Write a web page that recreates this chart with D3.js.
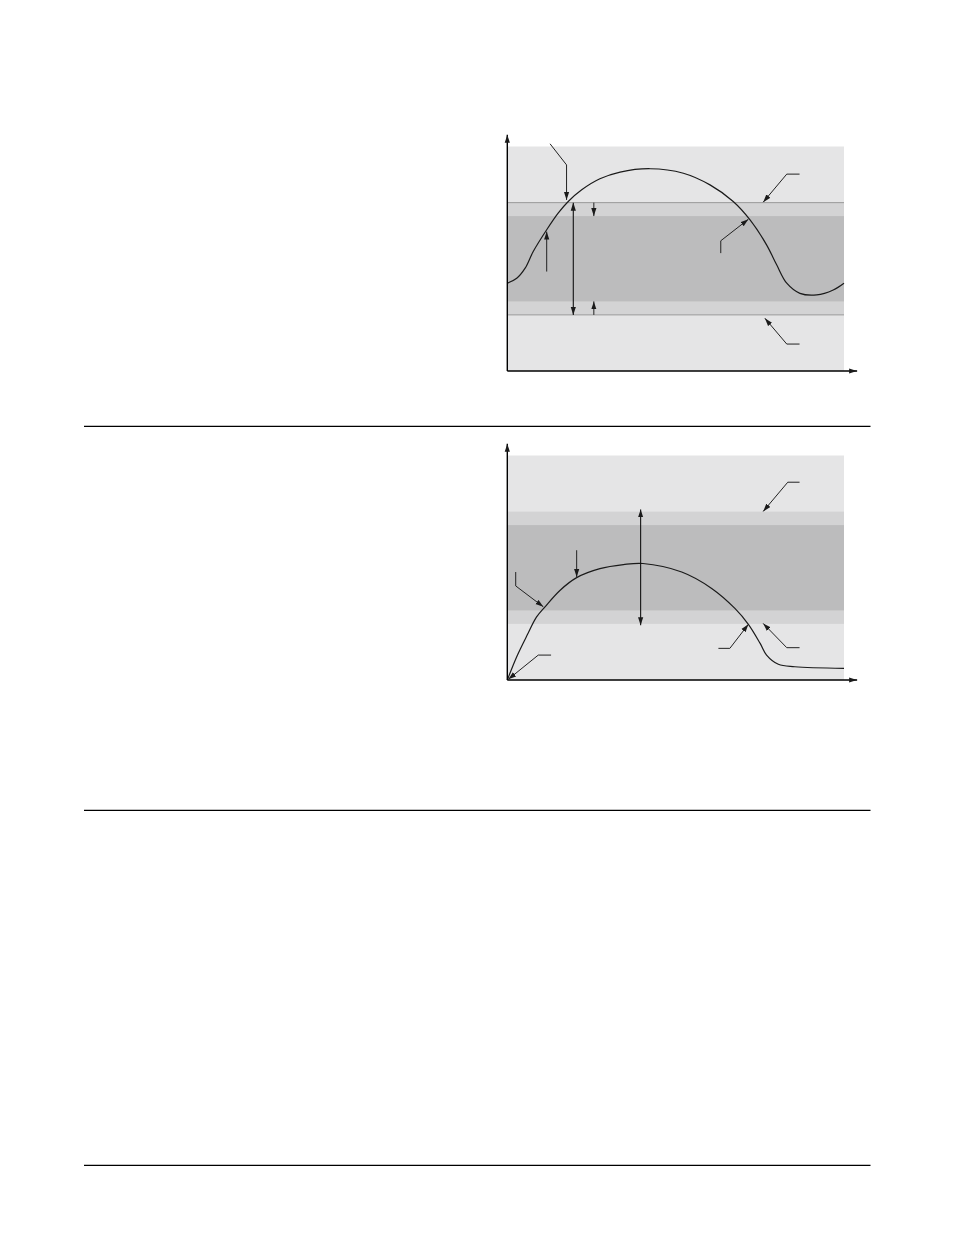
<!DOCTYPE html>
<html>
<head>
<meta charset="utf-8">
<script src="https://cdn.jsdelivr.net/npm/d3@7"></script>
<style>
  body { margin: 0; background: #fff; }
  svg { display: block; }
</style>
</head>
<body>
<div id="chart"></div>
<script>
// Curve samples (x: 0-100 across the plot, y: 0-100 up the plot)
var curveOneX = [0, 2.8, 5.3, 7.7, 11.7, 15.1, 18.1, 22.1, 27.5, 33.5, 42.4, 52.3, 60.2, 67.1, 72.1, 77.0, 80.0, 83.0, 86.9, 91.9, 96.8, 100];
var curveOneY = [39.1, 41.3, 45.8, 53.2, 62.9, 70.3, 75.5, 80.7, 85.6, 88.6, 90.1, 88.1, 82.9, 75.5, 67.3, 56.2, 47.3, 39.1, 34.6, 33.9, 36.1, 39.1];

var curveTwoX = [0, 2.8, 5.9, 8.7, 11.2, 15.7, 20.6, 27.5, 34.5, 40.3, 51.8, 60.7, 67.6, 71.6, 75.1, 77.0, 80.5, 85.4, 100];
var curveTwoY = [0, 10.4, 20, 28.1, 32.6, 40, 45.6, 49.6, 51.4, 51.9, 48.1, 40.8, 31.9, 24.8, 16.3, 11.1, 7.0, 5.9, 5.2];

// Tolerance bands (outer and inner), same for both panels
var outerBand = [25, 75];
var innerBand = [31, 69];

// Leader arrows, each a polyline ending at the arrow tip
var leadersOne = [
    [[12.7, 101.2], [17.6, 91.8], [17.6, 76.2]],
    [[86.8, 87.7], [83.0, 87.7], [76.0, 75.2]],
    [[63.4, 52.5], [63.4, 58.0], [71.6, 67.6]],
    [[86.8, 12.0], [83.0, 12.0], [76.5, 23.5]],
    [[11.7, 44.3], [11.7, 62.1]],
    [[25.7, 75], [25.7, 69]],
    [[25.7, 25], [25.7, 31]]
];
var doublesOne = [[19.6, 25, 75]];

var leadersTwo = [
    [[20.6, 57.8], [20.6, 45.9]],
    [[2.5, 48.1], [2.5, 41.9], [10.7, 32.6]],
    [[86.8, 88.1], [83.3, 88.1], [76.0, 75.1]],
    [[86.8, 14.4], [83.0, 14.4], [76.0, 25.2]],
    [[62.7, 14.1], [66.1, 14.1], [71.6, 24.8]],
    [[13.0, 11.1], [9.2, 11.1], [0.3, 0.3]]
];
var doublesTwo = [[39.6, 24.4, 76]];

// Page rules
var ruleRows = [426.3, 810.3, 1165.3];

var width = 954, height = 1235;

var svg = d3.select("#chart").append("svg")
    .attr("width", width)
    .attr("height", height);

svg.append("defs").append("marker")
    .attr("id", "head")
    .attr("viewBox", "0 -3 8 6")
    .attr("markerUnits", "userSpaceOnUse")
    .attr("markerWidth", 8)
    .attr("markerHeight", 6)
    .attr("refX", 8)
    .attr("refY", 0)
    .attr("orient", "auto-start-reverse")
  .append("path")
    .attr("d", "M0,-2.6L8,0L0,2.6Z")
    .attr("fill", "#1a1a1a");

// horizontal rules across the page
svg.selectAll("line.rule")
    .data(ruleRows)
    .enter().append("line")
    .attr("class", "rule")
    .attr("x1", 84).attr("x2", 870.5)
    .attr("y1", function (d) { return d; })
    .attr("y2", function (d) { return d; })
    .attr("stroke", "#000")
    .attr("stroke-width", 1.3);

function drawPanel(base, xs, ys, leaders, doubles, edgeLines) {
    var x = d3.scaleLinear().domain([0, 100]).range([507.3, 844]);
    var y = d3.scaleLinear().domain([0, 100]).range([base, base - 224.5]);
    var g = svg.append("g");

    // background and bands
    g.append("rect")
        .attr("x", x(0)).attr("y", y(100))
        .attr("width", x(100) - x(0)).attr("height", y(0) - y(100))
        .attr("fill", "#e5e5e6");
    g.append("rect")
        .attr("x", x(0)).attr("y", y(outerBand[1]))
        .attr("width", x(100) - x(0)).attr("height", y(outerBand[0]) - y(outerBand[1]))
        .attr("fill", "#d3d3d4");
    g.append("rect")
        .attr("x", x(0)).attr("y", y(innerBand[1]))
        .attr("width", x(100) - x(0)).attr("height", y(innerBand[0]) - y(innerBand[1]))
        .attr("fill", "#bcbcbd");

    if (edgeLines) {
        g.selectAll("line.edge")
            .data(outerBand)
            .enter().append("line")
            .attr("x1", x(0)).attr("x2", x(100))
            .attr("y1", function (d) { return y(d); })
            .attr("y2", function (d) { return y(d); })
            .attr("stroke", "#9a9a9a")
            .attr("stroke-width", 1);
    }

    // the curve
    var pts = xs.map(function (v, i) { return [v, ys[i]]; });
    g.append("path")
        .attr("d", d3.line()
            .x(function (d) { return x(d[0]); })
            .y(function (d) { return y(d[1]); })
            .curve(d3.curveCatmullRom.alpha(0.5))(pts))
        .attr("fill", "none")
        .attr("stroke", "#1a1a1a")
        .attr("stroke-width", 1.2);

    // axes with arrow ends
    g.append("path")
        .attr("d", d3.line()([[x(0), y(0)], [x(0), y(105.2)]]))
        .attr("stroke", "#000").attr("stroke-width", 1.4)
        .attr("marker-end", "url(#head)");
    g.append("path")
        .attr("d", d3.line()([[x(0), y(0)], [x(103.9), y(0)]]))
        .attr("stroke", "#000").attr("stroke-width", 1.4)
        .attr("marker-end", "url(#head)");

    // leader arrows
    var leaderLine = d3.line()
        .x(function (d) { return x(d[0]); })
        .y(function (d) { return y(d[1]); });
    g.selectAll("path.leader")
        .data(leaders)
        .enter().append("path")
        .attr("class", "leader")
        .attr("d", leaderLine)
        .attr("fill", "none")
        .attr("stroke", "#222")
        .attr("stroke-width", 1)
        .attr("marker-end", "url(#head)");

    // double-headed arrows
    g.selectAll("path.double")
        .data(doubles)
        .enter().append("path")
        .attr("class", "double")
        .attr("d", function (d) { return leaderLine([[d[0], d[1]], [d[0], d[2]]]); })
        .attr("stroke", "#111")
        .attr("stroke-width", 1.1)
        .attr("marker-start", "url(#head)")
        .attr("marker-end", "url(#head)");
}

drawPanel(371, curveOneX, curveOneY, leadersOne, doublesOne, true);
drawPanel(680, curveTwoX, curveTwoY, leadersTwo, doublesTwo, false);
</script>
</body>
</html>
